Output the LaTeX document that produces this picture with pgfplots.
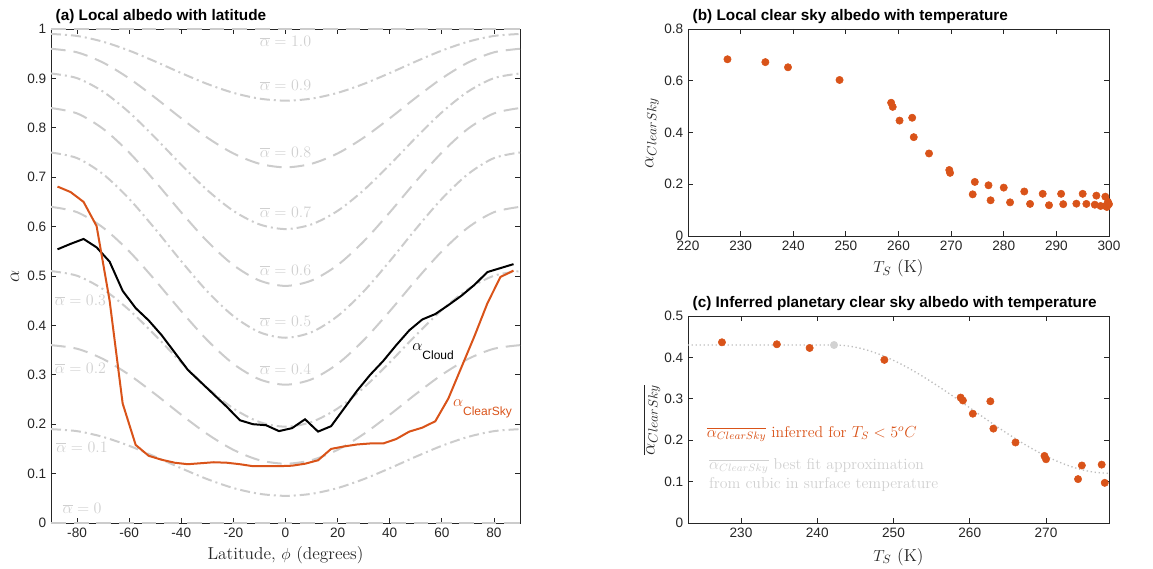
\documentclass[border=0pt]{standalone}
\usepackage{fontspec}
\usepackage{pgfplots}
\usepackage{pgfplotstable}
\pgfplotsset{compat=1.18}
\newfontfamily\hv{Liberation Sans}
\definecolor{axgray}{RGB}{38,38,38}
\definecolor{morange}{RGB}{217,83,25}
\definecolor{lgray}{RGB}{204,204,204}
\definecolor{tgray}{RGB}{208,208,208}
\definecolor{dgray}{RGB}{190,190,190}
\definecolor{pgray}{RGB}{210,210,210}

\pgfplotstableread{
phi a1 a2 a3 a4 a5 a6 a7 a8 a9
-90 0.19 0.36 0.51 0.64 0.75 0.84 0.91 0.96 0.99
-80 0.18593 0.35276 0.5005 0.62914 0.73869 0.82914 0.9005 0.95276 0.98593
-70 0.17421 0.33192 0.47315 0.59789 0.70613 0.79789 0.87315 0.93192 0.97421
-60 0.15625 0.3 0.43125 0.55 0.65625 0.75 0.83125 0.9 0.95625
-50 0.13422 0.26084 0.37985 0.49126 0.59506 0.69126 0.77985 0.86084 0.93422
-40 0.11078 0.21916 0.32515 0.42874 0.52994 0.62874 0.72515 0.81916 0.91078
-30 0.08875 0.18 0.27375 0.37 0.46875 0.57 0.67375 0.78 0.88875
-20 0.07079 0.14808 0.23185 0.32211 0.41887 0.52211 0.63185 0.74808 0.87079
-10 0.05907 0.12724 0.2045 0.29086 0.38631 0.49086 0.6045 0.72724 0.85907
0 0.055 0.12 0.195 0.28 0.375 0.48 0.595 0.72 0.855
10 0.05907 0.12724 0.2045 0.29086 0.38631 0.49086 0.6045 0.72724 0.85907
20 0.07079 0.14808 0.23185 0.32211 0.41887 0.52211 0.63185 0.74808 0.87079
30 0.08875 0.18 0.27375 0.37 0.46875 0.57 0.67375 0.78 0.88875
40 0.11078 0.21916 0.32515 0.42874 0.52994 0.62874 0.72515 0.81916 0.91078
50 0.13422 0.26084 0.37985 0.49126 0.59506 0.69126 0.77985 0.86084 0.93422
60 0.15625 0.3 0.43125 0.55 0.65625 0.75 0.83125 0.9 0.95625
70 0.17421 0.33192 0.47315 0.59789 0.70613 0.79789 0.87315 0.93192 0.97421
80 0.18593 0.35276 0.5005 0.62914 0.73869 0.82914 0.9005 0.95276 0.98593
90 0.19 0.36 0.51 0.64 0.75 0.84 0.91 0.96 0.99
}\refcurves

\pgfplotstableread{
lat cloud clear
-87.5 0.554 0.681
-82.5 0.565 0.670
-77.5 0.575 0.650
-72.5 0.558 0.601
-67.5 0.529 0.450
-62.5 0.470 0.242
-57.5 0.435 0.158
-52.5 0.410 0.136
-47.5 0.380 0.128
-42.5 0.345 0.122
-37.5 0.310 0.119
-32.5 0.285 0.121
-27.5 0.260 0.123
-22.5 0.235 0.122
-17.5 0.208 0.119
-12.5 0.200 0.115
-7.5 0.198 0.115
-2.5 0.186 0.115
2.5 0.192 0.116
7.5 0.210 0.120
12.5 0.185 0.127
17.5 0.196 0.150
22.5 0.232 0.155
27.5 0.268 0.159
32.5 0.300 0.161
37.5 0.328 0.161
42.5 0.360 0.170
47.5 0.390 0.185
52.5 0.412 0.193
57.5 0.423 0.206
62.5 0.441 0.252
67.5 0.460 0.315
72.5 0.482 0.378
77.5 0.508 0.445
82.5 0.516 0.498
87.5 0.524 0.511
}\latdata

\pgfplotstableread{
T a
227.5 0.683
234.7 0.672
239.0 0.652
248.8 0.603
258.6 0.515
258.9 0.499
260.2 0.446
262.6 0.457
262.9 0.382
265.8 0.319
269.65 0.255
269.8 0.244
274.1 0.161
274.5 0.209
277.1 0.196
277.5 0.138
280.0 0.187
281.2 0.130
283.9 0.172
285.0 0.124
287.4 0.163
288.6 0.119
290.9 0.163
291.3 0.123
293.8 0.125
295.0 0.163
295.7 0.124
297.3 0.121
297.6 0.156
298.4 0.116
299.3 0.152
299.3 0.116
299.8 0.132
300.0 0.123
299.6 0.112
}\clearlocal

\pgfplotstableread{
T a
227.5 0.4365
234.7 0.4317
239.0 0.4228
248.8 0.394
258.8 0.303
259.1 0.296
260.4 0.264
262.7 0.294
263.1 0.228
266.0 0.1945
269.8 0.162
270.0 0.154
274.2 0.106
274.7 0.139
277.3 0.141
277.7 0.097
}\planetary

\pgfplotstableread{
T a
223.0 0.430
230.0 0.430
236.0 0.430
242.2 0.430
244.21 0.4272
246.21 0.4194
248.22 0.4070
250.22 0.3909
252.23 0.3715
254.23 0.3496
256.24 0.3258
258.24 0.3007
260.25 0.2750
262.26 0.2493
264.26 0.2242
266.27 0.2004
268.27 0.1785
270.28 0.1591
272.28 0.1430
274.29 0.1306
276.29 0.1228
278.3 0.1200
}\fitcurve

\pgfplotsset{
  mystyle/.style={
    scale only axis,
    axis line style={draw=axgray, line width=0.6pt},
    tick style={draw=axgray, line width=0.6pt},
    tick align=inside,
    major tick length=4pt,
    tick label style={font=\hv\fontsize{10.2}{12}\selectfont, text=axgray},
    /pgf/number format/assume math mode=true,
    xlabel style={font=\fontsize{13}{15}\selectfont, text=axgray},
    ylabel style={font=\fontsize{14.5}{16}\selectfont, text=axgray},
    every axis title shift=0pt,
    title style={font=\hv\bfseries\fontsize{11.5}{13}\selectfont, anchor=west},
  },
  dgr/.style={lgray, line width=1.5pt, dash pattern=on 11pt off 6pt, smooth},
  ddgr/.style={lgray, line width=1.5pt, dash pattern=on 7.5pt off 3pt on 1.5pt off 3pt, smooth},
}
\tikzset{lbl/.style={text=tgray, font=\fontsize{11.5}{13}\selectfont}}

\begin{document}
\begin{tikzpicture}
\path[use as bounding box] (0,0) rectangle (864.75pt,426pt);

% ---------------- Panel (a)
\begin{axis}[mystyle,
  at={(38.25pt,33.75pt)}, anchor=south west,
  width=351.75pt, height=370.5pt,
  xmin=-90, xmax=90, ymin=0, ymax=1,
  xtick={-80,-60,-40,-20,0,20,40,60,80},
  ytick={0,0.1,0.2,0.3,0.4,0.5,0.6,0.7,0.8,0.9,1},
  xlabel={Latitude, $\phi$ (degrees)},
  xlabel style={at={(axis description cs:0.5,-0.0648)}, anchor=center},
  ylabel={$\alpha$},
  ylabel style={at={(axis description cs:-0.0768,0.5)}, anchor=center},
  title={(a) Local albedo with latitude},
  title style={at={(axis description cs:0,1.0253)}},
]
\addplot[dgr] coordinates {(-90,0) (90,0)};
\addplot[ddgr] table[x=phi,y=a1] {\refcurves};
\addplot[dgr] table[x=phi,y=a2] {\refcurves};
\addplot[ddgr] table[x=phi,y=a3] {\refcurves};
\addplot[dgr] table[x=phi,y=a4] {\refcurves};
\addplot[ddgr] table[x=phi,y=a5] {\refcurves};
\addplot[dgr] table[x=phi,y=a6] {\refcurves};
\addplot[ddgr] table[x=phi,y=a7] {\refcurves};
\addplot[dgr] table[x=phi,y=a8] {\refcurves};
\addplot[ddgr] table[x=phi,y=a9] {\refcurves};
\addplot[dgr] coordinates {(-90,1) (90,1)};

\node[lbl] at (axis cs:0,0.974) {$\overline{\alpha} = 1.0$};
\node[lbl] at (axis cs:0,0.885) {$\overline{\alpha} = 0.9$};
\node[lbl] at (axis cs:0,0.751) {$\overline{\alpha} = 0.8$};
\node[lbl] at (axis cs:0,0.629) {$\overline{\alpha} = 0.7$};
\node[lbl] at (axis cs:0,0.512) {$\overline{\alpha} = 0.6$};
\node[lbl] at (axis cs:0,0.4075) {$\overline{\alpha} = 0.5$};
\node[lbl] at (axis cs:0,0.311) {$\overline{\alpha} = 0.4$};
\node[lbl] at (axis cs:-78.7,0.45) {$\overline{\alpha} = 0.3$};
\node[lbl] at (axis cs:-78.7,0.314) {$\overline{\alpha} = 0.2$};
\node[lbl] at (axis cs:-78.1,0.154) {$\overline{\alpha} = 0.1$};
\node[lbl] at (axis cs:-78.1,0.029) {$\overline{\alpha} = 0$};

\addplot[black, line width=1.5pt] table[x=lat,y=cloud] {\latdata};
\addplot[morange, line width=1.5pt] table[x=lat,y=clear] {\latdata};

\node[anchor=base west, inner sep=0pt, font=\fontsize{12}{14}\selectfont] at (axis cs:48.6,0.350)
  {$\alpha$\raisebox{-6.75pt}{\hv\fontsize{9}{11}\selectfont Cloud}};
\node[anchor=base west, inner sep=0pt, text=morange, font=\fontsize{12}{14}\selectfont] at (axis cs:64.2,0.2355)
  {$\alpha$\raisebox{-7pt}{\hv\fontsize{9}{11}\selectfont ClearSky}};
\end{axis}

% ---------------- Panel (b)
\begin{axis}[mystyle,
  at={(516pt,249pt)}, anchor=south west,
  width=315.75pt, height=155.25pt,
  xmin=220, xmax=300, ymin=0, ymax=0.8,
  xtick={220,230,240,250,260,270,280,290,300},
  ytick={0,0.2,0.4,0.6,0.8},
  xlabel={$T_S$ (K)},
  xlabel style={at={(axis description cs:0.5,-0.1546)}, anchor=center},
  ylabel={$\alpha_{ClearSky}$},
  ylabel style={at={(axis description cs:-0.0855,0.4976)}, anchor=center},
  title={(b) Local clear sky albedo with temperature},
  title style={at={(axis description cs:0,1.0604)}},
]
\addplot[only marks, mark=*, mark size=2.75pt, color=morange, mark options={draw=morange, fill=morange}]
  table[x=T,y=a] {\clearlocal};
\end{axis}

% ---------------- Panel (c)
\begin{axis}[mystyle,
  at={(516pt,33.75pt)}, anchor=south west,
  width=315.75pt, height=155.25pt,
  xmin=223.05, xmax=278.26, ymin=0, ymax=0.5,
  xtick={230,240,250,260,270},
  ytick={0,0.1,0.2,0.3,0.4,0.5},
  xlabel={$T_S$ (K)},
  xlabel style={at={(axis description cs:0.5,-0.164)}, anchor=center},
  ylabel={$\overline{\alpha_{ClearSky}}$},
  ylabel style={at={(axis description cs:-0.0855,0.4976)}, anchor=center},
  title={(c) Inferred planetary clear sky albedo with temperature},
  title style={at={(axis description cs:0,1.0604)}},
]
\addplot[only marks, mark=*, mark size=2.75pt, color=morange, mark options={draw=morange, fill=morange}]
  table[x=T,y=a] {\planetary};
\addplot[dgray, line width=1pt, dotted, smooth] table[x=T,y=a] {\fitcurve};
\addplot[only marks, mark=*, mark size=2.75pt, color=pgray, mark options={draw=pgray, fill=pgray}]
  coordinates {(242.2,0.430) (278.3,0.1206)};
\node[anchor=base west, inner sep=0pt, text=morange, font=\fontsize{11.8}{14}\selectfont] at (axis cs:225.5,0.207)
  {$\overline{\alpha_{ClearSky}}$ inferred for $T_S < 5^oC$};
\node[anchor=base west, inner sep=0pt, text=tgray, font=\fontsize{11.8}{14}\selectfont] at (axis cs:225.8,0.1297)
  {$\overline{\alpha_{ClearSky}}$ best fit approximation};
\node[anchor=base west, inner sep=0pt, text=tgray, font=\fontsize{11.8}{14}\selectfont] at (axis cs:225.8,0.0838)
  {from cubic in surface temperature};
\end{axis}
\end{tikzpicture}
\end{document}
